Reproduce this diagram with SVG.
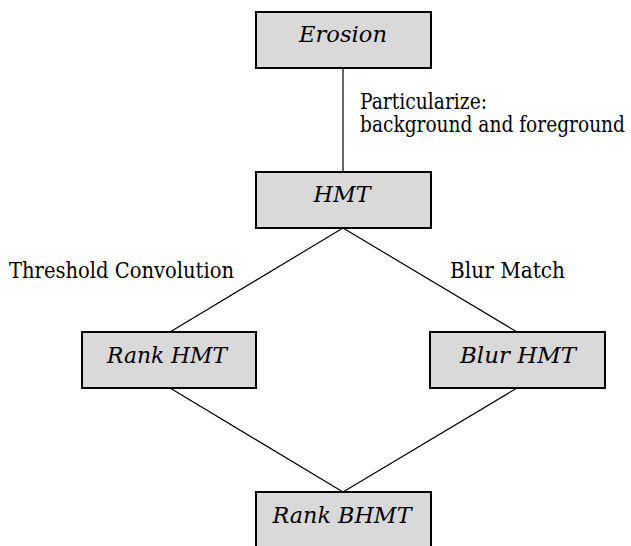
<svg xmlns="http://www.w3.org/2000/svg" width="631" height="546" viewBox="0 0 631 546">
<style>
.box{fill:#d9d9d9;stroke:#000;stroke-width:2}
.nt{font-family:'DejaVu Serif',serif;font-style:italic;font-size:22px;text-anchor:middle;fill:#000}
.lt{font-family:'DejaVu Serif',serif;font-size:21.5px;fill:#000}
.edge{stroke:#000;stroke-width:1.2;fill:none}
</style>
<rect width="631" height="546" fill="#fff"/>
<g id="connectors">
<line class="edge" x1="343" y1="68" x2="343" y2="172"/>
<line class="edge" x1="343" y1="228" x2="170" y2="332"/>
<line class="edge" x1="343" y1="228" x2="517" y2="332"/>
<line class="edge" x1="170" y1="388" x2="343" y2="492"/>
<line class="edge" x1="517" y1="388" x2="343" y2="492"/>
</g>
<g id="labels">
<text class="lt" x="360" y="109" textLength="127" lengthAdjust="spacingAndGlyphs">Particularize:</text>
<text class="lt" x="360" y="132" textLength="265" lengthAdjust="spacingAndGlyphs">background and foreground</text>
<text class="lt" x="9" y="278" textLength="225" lengthAdjust="spacingAndGlyphs">Threshold Convolution</text>
<text class="lt" x="450" y="278" textLength="115" lengthAdjust="spacingAndGlyphs">Blur Match</text>
</g>
<g id="erosion">
<rect class="box" x="256" y="12" width="175" height="56"/>
<text class="nt" x="343" y="42" textLength="88" lengthAdjust="spacingAndGlyphs">Erosion</text>
</g>
<g id="hmt">
<rect class="box" x="256" y="172" width="175" height="56"/>
<text class="nt" x="342" y="202" textLength="57" lengthAdjust="spacingAndGlyphs">HMT</text>
</g>
<g id="rank-hmt">
<rect class="box" x="82" y="332" width="174" height="56"/>
<text class="nt" x="167" y="363" textLength="120" lengthAdjust="spacingAndGlyphs">Rank HMT</text>
</g>
<g id="blur-hmt">
<rect class="box" x="430" y="332" width="175" height="56"/>
<text class="nt" x="518" y="363" textLength="116" lengthAdjust="spacingAndGlyphs">Blur HMT</text>
</g>
<g id="rank-bhmt">
<rect class="box" x="256" y="492" width="175" height="70"/>
<text class="nt" x="342" y="523" textLength="139" lengthAdjust="spacingAndGlyphs">Rank BHMT</text>
</g>
</svg>
